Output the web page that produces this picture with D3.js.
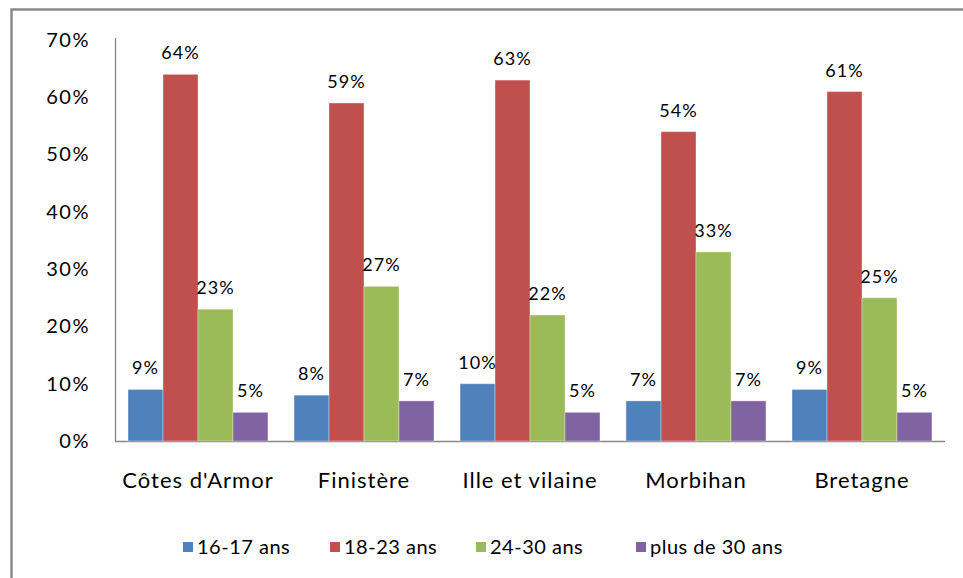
<!DOCTYPE html>
<html>
<head>
  <meta charset="utf-8">
  <style>
    body { margin: 0; background: #fff; }
    text { font-family: "Lato", "DejaVu Sans", sans-serif; fill: #000; }
    .tick-label { font-size: 20px; letter-spacing: 1.5px; }
    .cat-label { font-size: 22px; letter-spacing: 1px; }
    .val-label { font-size: 18px; letter-spacing: 1px; }
    .leg-label { font-size: 20px; letter-spacing: 0.5px; }
  </style>
</head>
<body>
  <script src="https://d3js.org/d3.v7.min.js"></script>
  <script>
    var categories = ["Côtes d'Armor", "Finistère", "Ille et vilaine", "Morbihan", "Bretagne"];
    var series = ["16-17 ans", "18-23 ans", "24-30 ans", "plus de 30 ans"];
    var colors = ["#4F81BD", "#C0504D", "#9BBB59", "#8064A2"];
    // one array per age group, in category order (%)
    var v1617 = [9, 8, 10, 7, 9];
    var v1823 = [64, 59, 63, 54, 61];
    var v2430 = [23, 27, 22, 33, 25];
    var v30plus = [5, 7, 5, 7, 5];
    var yTicks = [0, 10, 20, 30, 40, 50, 60, 70];

    var values = [v1617, v1823, v2430, v30plus];

    var W = 963, H = 578;
    var margin = {top: 40, right: 18, bottom: 137, left: 115},
        width = 945 - margin.left,
        height = 441 - margin.top;

    var svg = d3.select("body").append("svg")
        .attr("width", W)
        .attr("height", H);

    // chart frame (cropped: only top and left edges visible)
    svg.append("path")
        .attr("d", "M11.5," + H + "V9.5H" + W)
        .attr("fill", "none")
        .attr("stroke", "#8a8a8a")
        .attr("stroke-width", 2.5);

    var x0 = d3.scaleBand().domain(categories)
        .range([0, width])
        .paddingInner(0.157)
        .paddingOuter(0.0785);
    var x1 = d3.scaleBand().domain(series).range([0, x0.bandwidth()]);
    var y = d3.scaleLinear().domain([0, 70]).range([height, 0]);

    var g = svg.append("g")
        .attr("transform", "translate(" + margin.left + "," + margin.top + ")");

    // y axis
    var yAxis = g.append("g")
        .call(d3.axisLeft(y).tickValues(yTicks).tickSize(0).tickPadding(25)
          .tickFormat(function(d) { return d + "%"; }));
    yAxis.select(".domain").attr("stroke", "#868686").attr("stroke-width", 1.3)
        .attr("d", "M0.5,-2V" + height);
    yAxis.selectAll("text").attr("class", "tick-label").attr("fill", "#000");

    // x axis
    var xAxis = g.append("g")
        .attr("transform", "translate(0," + height + ")")
        .call(d3.axisBottom(x0).tickSize(0).tickPadding(31));
    xAxis.select(".domain").attr("stroke", "#868686").attr("stroke-width", 1.5)
        .attr("d", "M0,0.5H" + width);
    xAxis.selectAll("text").attr("class", "cat-label").attr("fill", "#000");

    var rows = [];
    categories.forEach(function(c, i) {
      series.forEach(function(s, j) {
        rows.push({cat: c, ser: s, idx: j, v: values[j][i]});
      });
    });

    g.selectAll(".bar")
      .data(rows)
      .enter().append("rect")
        .attr("class", "bar")
        .attr("x", function(d) { return x0(d.cat) + x1(d.ser); })
        .attr("y", function(d) { return y(d.v); })
        .attr("width", x1.bandwidth())
        .attr("height", function(d) { return height - y(d.v); })
        .attr("fill", function(d) { return colors[d.idx]; })
        .attr("stroke", "rgba(255,255,255,0.35)")
        .attr("stroke-width", 1);

    g.selectAll(".val-label")
      .data(rows)
      .enter().append("text")
        .attr("class", "val-label")
        .attr("text-anchor", "middle")
        .attr("x", function(d) { return x0(d.cat) + x1(d.ser) + x1.bandwidth() / 2; })
        .attr("y", function(d) { return y(d.v) - 15; })
        .text(function(d) { return d.v + "%"; });

    // legend
    var legX = [183, 330, 476, 636];
    var leg = svg.append("g").attr("transform", "translate(0,547)");
    var item = leg.selectAll("g")
      .data(series)
      .enter().append("g")
        .attr("transform", function(d, i) { return "translate(" + legX[i] + ",0)"; });
    item.append("rect")
        .attr("x", 0).attr("y", -5)
        .attr("width", 10).attr("height", 10)
        .attr("fill", function(d, i) { return colors[i]; });
    item.append("text")
        .attr("class", "leg-label")
        .attr("x", 14)
        .attr("dy", "0.35em")
        .text(function(d) { return d; });
  </script>
</body>
</html>
